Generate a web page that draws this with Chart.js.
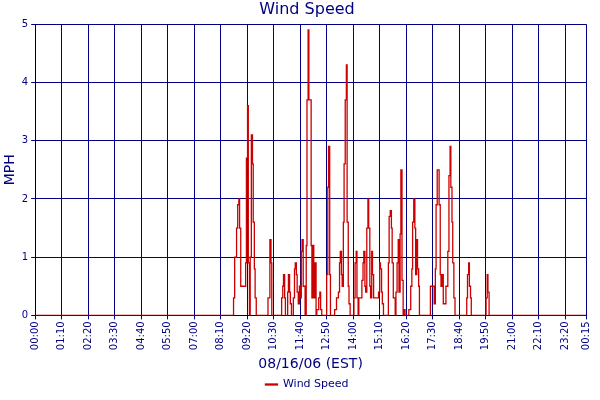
<!DOCTYPE html>
<html>
<head>
<script src="https://cdn.jsdelivr.net/npm/chart.js@4"></script>
<style>body{margin:0;background:#fff}#wrap{width:600px;height:400px}</style>
</head>
<body>
<div id="wrap"><canvas id="wind"></canvas></div>
<script>
// minutes since 00:00 on 08/16/06
var times = [0, 524, 527, 532, 535, 538, 540, 543, 556, 558, 561, 563, 566, 568, 571, 574, 576, 579, 581, 584,
  615, 620, 623, 625, 651, 654, 656, 659, 661, 667, 669, 672, 674, 677, 682, 685, 687, 690, 692, 695, 698, 700, 703, 705, 708,
  713, 716, 718, 721, 723, 729, 731, 734, 736, 739, 742, 744, 749, 752, 754, 757,
  770, 773, 775, 778, 780, 791, 796, 801, 804, 806, 809, 811, 814, 816, 819, 822, 824, 827, 829, 832,
  842, 845, 848, 850, 853, 855, 863, 866, 868, 871, 873, 876, 879, 881, 884, 886, 889, 891, 894,
  907, 910, 912, 915, 917, 920, 933, 935, 938, 941,
  943, 946, 951, 953, 956, 959, 961, 964, 966, 969, 972, 974, 977, 987, 992, 995, 997, 1000, 1003, 1005, 1008, 1010, 1013, 1015,
  1044, 1049, 1054, 1057, 1059, 1062, 1065, 1067, 1070, 1072, 1075, 1078, 1080, 1083, 1085, 1090, 1093, 1096, 1098, 1101, 1103, 1106, 1109,
  1140, 1142, 1145, 1147, 1150, 1152, 1191, 1194, 1196, 1199, 1455];
var speeds = [0, 0.3, 1.0, 1.5, 1.9, 2.0, 1.5, 0.5, 0.9, 2.7, 3.6, 0.9, 0, 1.0, 3.1, 2.6, 1.6, 0.8, 0.3, 0,
  0.3, 1.3, 0.9, 0, 0.3, 0.5, 0.7, 0.3, 0, 0.4, 0.7, 0.4, 0.2, 0, 0.3, 0.8, 0.9, 0.7, 0.4, 0.2, 0.5, 0.3, 1.1, 1.3, 0.5,
  0, 1.2, 3.7, 4.9, 3.7, 1.2, 0.3, 1.2, 0.3, 0.9, 0, 0.1, 0.3, 0.4, 0.1, 0,
  0.7, 2.2, 2.9, 0.7, 0, 0.1, 0.3, 0.4, 0.9, 1.1, 0.7, 0.5, 1.6, 2.6, 3.7, 4.3, 1.6, 0.5, 0.2, 0,
  0.3, 0.9, 1.1, 0.3, 0, 0.3, 0.6, 0.9, 1.1, 0.5, 0.4, 1.5, 2.0, 1.5, 0.5, 0.3, 1.1, 0.7, 0.3,
  0.4, 0.9, 0.8, 0.4, 0.2, 0, 0.9, 1.7, 1.8, 1.5,
  0.9, 0.3, 0, 0.4, 0.9, 1.3, 0.4, 1.4, 2.5, 0.6, 0, 0.1, 0, 0.1, 0.5, 0.8, 1.6, 2.0, 1.5, 0.7, 1.3, 0.8, 0.5, 0,
  0.5, 0.5, 0.2, 0.8, 1.9, 2.5, 2.5, 1.9, 0.7, 0.5, 0.7, 0.2, 0.2, 0.2, 0.5, 1.1, 2.4, 2.9, 2.2, 1.6, 0.9, 0.3, 0,
  0.3, 0.7, 0.9, 0.5, 0.3, 0, 0.3, 0.7, 0.4, 0, 0];
var tickMinutes = [0, 70, 140, 210, 280, 350, 420, 490, 560, 630, 700, 770, 840, 910, 980,
  1050, 1120, 1190, 1260, 1330, 1400, 1455];
var navy = '#000080';
var red = '#cc0000';

function hhmm(m) {
  m = m % 1440;
  var h = Math.floor(m / 60), mm = m % 60;
  return (h < 10 ? '0' : '') + h + ':' + (mm < 10 ? '0' : '') + mm;
}

var pts = times.map(function (t, i) { return { x: t, y: speeds[i] }; });

new Chart(document.getElementById('wind'), {
  type: 'line',
  data: {
    datasets: [{
      label: 'Wind Speed',
      data: pts,
      stepped: true,
      borderColor: red,
      backgroundColor: red,
      borderWidth: 1.3,
      pointRadius: 0
    }]
  },
  options: {
    responsive: true,
    maintainAspectRatio: false,
    animation: false,
    layout: { padding: { right: -12, left: 2 } },
    scales: {
      x: {
        type: 'linear',
        min: 0,
        max: 1455,
        afterBuildTicks: function (axis) {
          axis.ticks = tickMinutes.map(function (v) { return { value: v }; });
        },
        ticks: {
          color: navy,
          font: { family: 'DejaVu Sans', size: 10 },
          maxRotation: 90,
          minRotation: 90,
          autoSkip: false,
          padding: 2,
          callback: function (v) { return hhmm(v); }
        },
        grid: { color: navy, tickLength: 4 },
        border: { color: '#000' },
        title: { display: true, text: '08/16/06 (EST)', color: navy, font: { family: 'DejaVu Sans', size: 14 }, padding: { top: 4, bottom: 0 } }
      },
      y: {
        min: 0,
        max: 5,
        ticks: { stepSize: 1, color: navy, font: { family: 'DejaVu Sans', size: 10 } },
        grid: { color: navy, tickLength: 4 },
        border: { color: '#000' },
        title: { display: true, text: 'MPH', color: navy, font: { family: 'DejaVu Sans', size: 14 }, padding: 0 }
      }
    },
    plugins: {
      title: { display: true, text: 'Wind Speed', color: navy, font: { family: 'DejaVu Sans', size: 16, weight: 'normal' }, padding: { top: 0, bottom: 5 } },
      legend: {
        position: 'bottom',
        labels: { color: navy, font: { family: 'DejaVu Sans', size: 11 }, boxWidth: 12, boxHeight: 1, padding: 6 }
      }
    }
  }
});
</script>
</body>
</html>
